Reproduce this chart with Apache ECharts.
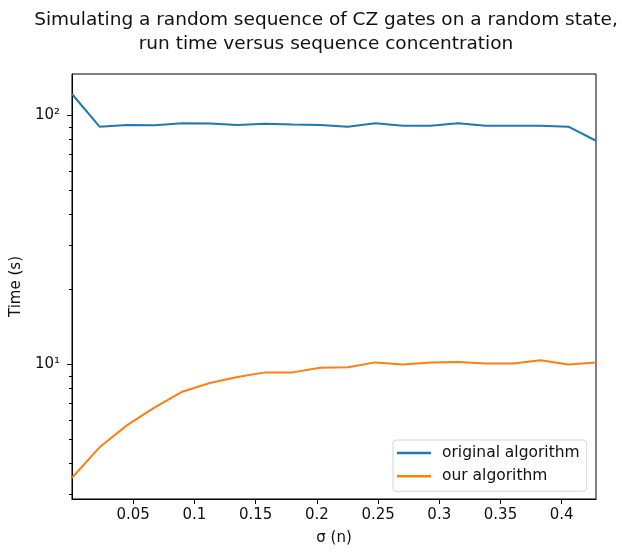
<!DOCTYPE html>
<html>
<head>
<meta charset="utf-8">
<script src="https://cdn.jsdelivr.net/npm/echarts@6/dist/echarts.min.js"></script>
<style>
html,body{margin:0;padding:0;background:#fff;}
#chart{width:622px;height:553px;}
</style>
</head>
<body>
<div id="chart"></div>
<script>
// ---- data ----
const sigmaValues = [0, 0.0225, 0.0451, 0.0676, 0.0901, 0.1126, 0.1352, 0.1577, 0.1802, 0.2027,
                     0.2253, 0.2478, 0.2703, 0.2928, 0.3154, 0.3379, 0.3604, 0.3829, 0.4055, 0.428];
const originalTimes = [122, 90.2, 91.6, 91.3, 93, 92.9, 91.6, 92.7, 92, 91.6,
                       90.2, 93, 91, 91, 93, 91, 91, 91, 90.2, 79.2];
const ourTimes = [3.51, 4.65, 5.71, 6.73, 7.78, 8.43, 8.91, 9.3, 9.3, 9.7,
                  9.75, 10.2, 10.0, 10.2, 10.24, 10.1, 10.1, 10.4, 10.0, 10.2];
const seriesNames = ['original algorithm', 'our algorithm'];
const xTickValues = [0.05, 0.1, 0.15, 0.2, 0.25, 0.3, 0.35, 0.4];
const yMajorTicks = [10, 100];
const yMinorTicks = [3, 4, 5, 6, 7, 8, 9, 20, 30, 40, 50, 60, 70, 80, 90];
const titleText = 'Simulating a random sequence of CZ gates on a random state,\nrun time versus sequence concentration';
const xName = 'σ (n)';
const yName = 'Time (s)';

const sup = {'0':'⁰','1':'¹','2':'²','3':'³'};
const FONT = 'DejaVu Sans';
const TXT = '#111';
const yMin = 2.884, yMax = 146.8;

const chart = echarts.init(document.getElementById('chart'), null, {renderer: 'canvas'});
chart.setOption({
  animation: false,
  backgroundColor: '#fff',
  title: {
    text: titleText,
    left: 321, top: 3, textAlign: 'center',
    textStyle: {fontFamily: FONT, fontSize: 18.5, fontWeight: 'normal', color: TXT, lineHeight: 24}
  },
  grid: {left: 72, right: 26, top: 74, bottom: 54, show: true, borderColor: '#000', borderWidth: 1, backgroundColor: 'transparent'},
  legend: {
    data: seriesNames,
    orient: 'vertical',
    left: 393, top: 440,
    padding: [4, 7, 6, 4],
    itemWidth: 34, itemHeight: 2.5, itemGap: 5.3,
    icon: 'rect',
    backgroundColor: 'rgba(255,255,255,0.8)',
    borderColor: '#d5d5d5', borderWidth: 1, borderRadius: 3,
    textStyle: {fontFamily: FONT, fontSize: 15.5, color: TXT, lineHeight: 18, padding: [0, 0, 0, 6]}
  },
  xAxis: {
    type: 'value', min: 0, max: 0.428,
    name: xName, nameLocation: 'middle', nameGap: 32,
    nameTextStyle: {fontFamily: FONT, fontSize: 15, color: TXT},
    axisLine: {show: true, onZero: false, lineStyle: {color: '#000', width: 1}},
    axisTick: {show: true, length: 5, customValues: xTickValues, lineStyle: {color: '#000'}},
    axisLabel: {customValues: xTickValues, margin: 9, fontFamily: FONT, fontSize: 15, color: TXT,
                formatter: v => String(+v.toFixed(2))},
    splitLine: {show: false}
  },
  yAxis: [{
    type: 'log', logBase: 10, min: yMin, max: yMax, position: 'left',
    name: yName, nameLocation: 'middle', nameGap: 48,
    nameTextStyle: {fontFamily: FONT, fontSize: 15, color: TXT},
    axisLine: {show: true, lineStyle: {color: '#000', width: 1}},
    axisTick: {show: true, length: 5, customValues: yMajorTicks, lineStyle: {color: '#000'}},
    axisLabel: {customValues: yMajorTicks, margin: 12, fontFamily: FONT, fontSize: 15, color: TXT,
                formatter: v => '10' + String(Math.round(Math.log10(v))).split('').map(c => sup[c]).join('')},
    splitLine: {show: false}
  }, {
    type: 'log', logBase: 10, min: yMin, max: yMax, position: 'left',
    axisLine: {show: false},
    axisTick: {show: true, length: 3, customValues: yMinorTicks, lineStyle: {color: '#000'}},
    axisLabel: {show: false},
    splitLine: {show: false}
  }],
  series: [{
    name: seriesNames[0], type: 'line', yAxisIndex: 0,
    data: sigmaValues.map((x, i) => [x, originalTimes[i]]),
    showSymbol: false, color: '#1f77b4',
    lineStyle: {width: 2, color: '#1f77b4'}
  }, {
    name: seriesNames[1], type: 'line', yAxisIndex: 0,
    data: sigmaValues.map((x, i) => [x, ourTimes[i]]),
    showSymbol: false, color: '#ff7f0e',
    lineStyle: {width: 2, color: '#ff7f0e'}
  }]
});
</script>
</body>
</html>
